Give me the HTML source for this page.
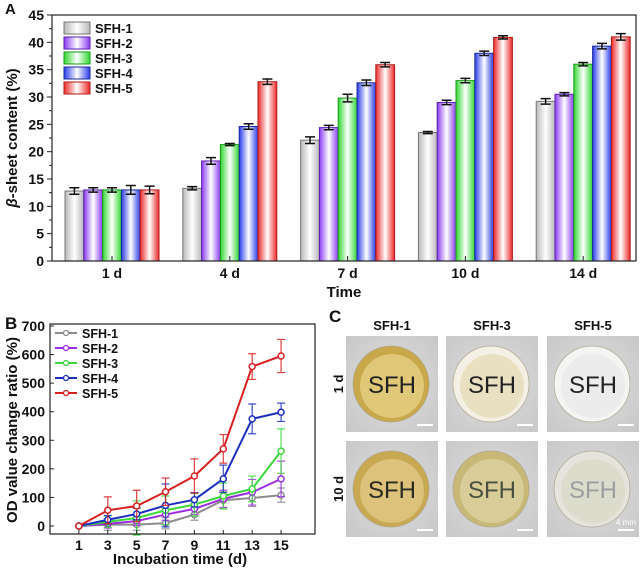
<!DOCTYPE html>
<html><head><meta charset="utf-8">
<style>
body{margin:0;background:#fff;width:644px;height:568px;overflow:hidden;font-family:"Liberation Sans",Arial,sans-serif;}
svg{position:absolute;left:0;top:0}
text{font-family:"Liberation Sans",Arial,sans-serif;font-weight:bold;fill:#111}
</style></head>
<body>
<svg id="fig" width="644" height="568" viewBox="0 0 644 568">
<defs>
 <linearGradient id="g0" x1="0" x2="1"><stop offset="0" stop-color="#b8b8b8"/><stop offset="0.5" stop-color="#fff"/><stop offset="1" stop-color="#b8b8b8"/></linearGradient>
 <linearGradient id="g1" x1="0" x2="1"><stop offset="0" stop-color="#8a3cf0"/><stop offset="0.5" stop-color="#fff"/><stop offset="1" stop-color="#8a3cf0"/></linearGradient>
 <linearGradient id="g2" x1="0" x2="1"><stop offset="0" stop-color="#30d830"/><stop offset="0.5" stop-color="#fff"/><stop offset="1" stop-color="#30d830"/></linearGradient>
 <linearGradient id="g3" x1="0" x2="1"><stop offset="0" stop-color="#2a3ce8"/><stop offset="0.5" stop-color="#fff"/><stop offset="1" stop-color="#2a3ce8"/></linearGradient>
 <linearGradient id="g4" x1="0" x2="1"><stop offset="0" stop-color="#ec2a2a"/><stop offset="0.5" stop-color="#fff"/><stop offset="1" stop-color="#ec2a2a"/></linearGradient>
 <radialGradient id="bg" cx="0.5" cy="0.5" r="0.7"><stop offset="0" stop-color="#dedede"/><stop offset="1" stop-color="#c8c8c8"/></radialGradient>
</defs>
<g id="chartA"></g>
<g id="chartB"></g>
<g id="panelC"></g>
</svg>
<script>
// ---------- Chart A data ----------
const catsA = ["1 d","4 d","7 d","10 d","14 d"];
const seriesA = ["SFH-1","SFH-2","SFH-3","SFH-4","SFH-5"];
const valsA = [
 [12.8,13.3,22.1,23.5,29.2],
 [13.0,18.3,24.4,29.0,30.5],
 [13.0,21.3,29.8,33.0,36.0],
 [13.0,24.6,32.6,38.0,39.3],
 [13.0,32.8,35.9,40.9,41.0]
];
const errA = [
 [0.6,0.3,0.6,0.2,0.5],
 [0.4,0.6,0.4,0.4,0.3],
 [0.4,0.2,0.7,0.4,0.3],
 [0.8,0.5,0.5,0.4,0.5],
 [0.7,0.5,0.4,0.3,0.6]
];
const ticksA = [0,5,10,15,20,25,30,35,40,45];
// ---------- Chart B data ----------
const daysB = [1,3,5,7,9,11,13,15];
const seriesB = ["SFH-1","SFH-2","SFH-3","SFH-4","SFH-5"];
const valsB = [
 [0,5,5,10,40,90,98,108],
 [0,8,17,40,60,95,118,165],
 [0,15,28,55,75,105,130,262],
 [0,22,42,72,92,165,375,398],
 [0,55,70,120,175,270,558,595]
];
const errB = [
 [0,20,20,20,20,30,30,25],
 [0,15,15,20,20,30,45,62],
 [0,20,60,50,40,45,45,78],
 [0,15,20,75,25,48,52,32],
 [0,47,55,48,60,50,45,58]
];
const ticksBy = [0,100,200,300,400,500,600,700];

const NS="http://www.w3.org/2000/svg";
function mk(parent,tag,attrs,txt){const e=document.createElementNS(NS,tag);for(const k in attrs)e.setAttribute(k,attrs[k]);if(txt!==undefined)e.textContent=txt;parent.appendChild(e);return e;}

// ---------- Chart A ----------
(function(){
 const g=document.getElementById('chartA');
 const L=52,R=636,T=15,B=261,ymax=45;
 const y=v=>B-(v/ymax)*(B-T);
 const c0=112,step=117.8,bw=18.8;
 const x=(ci,si)=>c0+ci*step+(si-2.5)*bw;
 const edge=["#777","#5a1fb0","#1a9a1a","#1a2aa0","#b01a1a"];
 let t=mk(g,'text',{x:5,y:14,'font-size':15});t.textContent='A';
 
 for(let s=0;s<seriesA.length;s++){
  for(let c=0;c<catsA.length;c++){
   const v=valsA[s][c],e=errA[s][c];
   const r=mk(g,'rect',{x:x(c,s),y:y(v),width:bw,height:B-y(v),fill:'url(#g'+s+')',stroke:edge[s],'stroke-width':1});
   
   
   const cx=x(c,s)+bw/2;
   const eb=mk(g,'path',{d:`M${cx},${y(v+e)}V${y(v-e)}M${cx-5},${y(v+e)}H${cx+5}M${cx-5},${y(v-e)}H${cx+5}`,stroke:'#111','stroke-width':1.5,fill:'none'});
   
   
  }
 }
 mk(g,'rect',{x:L,y:T,width:R-L,height:B-T,fill:'none',stroke:'#222','stroke-width':1.2});
 ticksA.forEach(v=>{
  mk(g,'line',{x1:L-5,x2:L,y1:y(v),y2:y(v),stroke:'#222'});
  if(v<45)mk(g,'line',{x1:L-3,x2:L,y1:y(v+2.5),y2:y(v+2.5),stroke:'#222'});
  const tl=mk(g,'text',{x:L-8,y:y(v)+5,'font-size':14,'text-anchor':'end'},v);
  
 });
 catsA.forEach((c,i)=>{
  const cx=c0+i*step;
  mk(g,'line',{x1:cx,x2:cx,y1:B,y2:B-5,stroke:'#222'});
  const tl=mk(g,'text',{x:cx,y:B+17,'font-size':14,'text-anchor':'middle'},c);
  
 });
 const xt=mk(g,'text',{x:344,y:297,'font-size':15,'text-anchor':'middle'},'Time');
 
 const yt=mk(g,'text',{x:0,y:0,'font-size':15,'text-anchor':'middle',transform:`translate(17,${(T+B)/2}) rotate(-90)`});
 
 mk(yt,'tspan',{'font-style':'italic'},'β');mk(yt,'tspan',{},'-sheet content (%)');
 seriesA.forEach((s,i)=>{
  const ly=28+i*15;
  const lg=mk(g,'g',{});
  
  
  mk(lg,'rect',{x:64,y:ly-6,width:26,height:12,fill:'url(#g'+i+')',stroke:edge[i]});
  mk(lg,'text',{x:95,y:ly+5,'font-size':13},s);
 });
})();

// ---------- Chart B ----------
(function(){
 const g=document.getElementById('chartB');
 const L=50,R=315,T=324,B=534;
 const xmin=-1,xmax=17.35,ymin=-28,ymax=707;
 const x=v=>L+(v-xmin)/(xmax-xmin)*(R-L);
 const y=v=>B-(v-ymin)/(ymax-ymin)*(B-T);
 const cols=["#8c8c8c","#9a2ee0","#3ad83a","#1c2ec0","#d82020"];
 let t=mk(g,'text',{x:5,y:329,'font-size':17});t.textContent='B';
 
 for(let s=0;s<seriesB.length;s++){
  const sg=mk(g,'g',{});
  
  
  daysB.forEach((d,i)=>{
   const v=valsB[s][i],e=errB[s][i];if(!e)return;
   const cx=x(d);
   mk(sg,'path',{d:`M${cx},${y(v+e)}V${y(v-e)}M${cx-4},${y(v+e)}H${cx+4}M${cx-4},${y(v-e)}H${cx+4}`,stroke:cols[s],'stroke-width':1.2,fill:'none',opacity:0.85});
  });
  const pts=daysB.map((d,i)=>x(d)+','+y(valsB[s][i])).join(' ');
  mk(sg,'polyline',{points:pts,fill:'none',stroke:cols[s],'stroke-width':2});
  daysB.forEach((d,i)=>{
   const p=mk(sg,'circle',{cx:x(d),cy:y(valsB[s][i]),r:3,fill:'#fff',stroke:cols[s],'stroke-width':1.5});
   
   
  });
 }
 mk(g,'rect',{x:L,y:T,width:R-L,height:B-T,fill:'none',stroke:'#222','stroke-width':1.2});
 ticksBy.forEach(v=>{
  mk(g,'line',{x1:L,x2:L+4,y1:y(v),y2:y(v),stroke:'#222'});
  const tl=mk(g,'text',{x:L-5,y:y(v)+5,'font-size':14,'text-anchor':'end'},v);
  
 });
 daysB.forEach(d=>{
  mk(g,'line',{x1:x(d),x2:x(d),y1:B,y2:B-4,stroke:'#222'});
  const tl=mk(g,'text',{x:x(d),y:550,'font-size':14,'text-anchor':'middle'},d);
  
 });
 const xt=mk(g,'text',{x:180,y:564,'font-size':15,'text-anchor':'middle'},'Incubation time (d)');
 
 const yt=mk(g,'text',{x:0,y:0,'font-size':15,'text-anchor':'middle',transform:`translate(17,430) rotate(-90)`},'OD value change ratio (%)');
 
 seriesB.forEach((s,i)=>{
  const ly=333+i*15;
  const lg=mk(g,'g',{});
  
  
  mk(lg,'line',{x1:55,x2:77,y1:ly,y2:ly,stroke:cols[i],'stroke-width':2});
  mk(lg,'circle',{cx:66,cy:ly,r:2.5,fill:'#fff',stroke:cols[i],'stroke-width':1.3});
  mk(lg,'text',{x:82,y:ly+5,'font-size':12.5},s);
 });
})();

// ---------- Panel C ----------
(function(){
 const g=document.getElementById('panelC');
 let t=mk(g,'text',{x:329,y:322,'font-size':17});t.textContent='C';
 
 const colX=[346,446,547],colW=92;
 const rowY=[336,441],rowH=96;
 const heads=["SFH-1","SFH-3","SFH-5"];
 heads.forEach((h,i)=>{
  const e=mk(g,'text',{x:colX[i]+colW/2,y:330,'font-size':13,'text-anchor':'middle'},h);
  
 });
 ["1 d","10 d"].forEach((r,j)=>{
  const e=mk(g,'text',{x:0,y:0,'font-size':13,'text-anchor':'middle',transform:`translate(343,${rowY[j]+rowH/2}) rotate(-90)`},r);
  
 });
 const fills=[["#e0c878","#e8e0c0","#ececec"],["#dcc27a","#d8cc98","#dcdccc"]];
 const rims=[["#c8a84a","#f4f0e6","#f4f4f2"],["#c8a850","#c8b878","#e4e4dc"]];
 const ink=[["#222","#222","#222"],["#2a2a20","#4a5040","#9aa0a0"]];
 for(let j=0;j<2;j++)for(let i=0;i<3;i++){
  const pg=mk(g,'g',{});
  
  
  const X=colX[i],Y=rowY[j];
  mk(pg,'rect',{x:X,y:Y,width:colW,height:rowH,fill:'url(#bg)'});
  const cx=X+colW/2-1,cy=Y+rowH/2;
  mk(pg,'circle',{cx:cx,cy:cy,r:38,fill:rims[j][i],stroke:'#b0a890','stroke-width':0.8});
  mk(pg,'circle',{cx:cx+1,cy:cy+2,r:32,fill:fills[j][i]});
  mk(pg,'text',{x:cx+1,y:cy+9,'font-size':24,'text-anchor':'middle',style:'fill:'+ink[j][i]+';font-weight:normal;font-family:"Liberation Sans",sans-serif'},'SFH');
  mk(pg,'rect',{x:X+colW-21,y:Y+rowH-8,width:16,height:2,fill:'#fff'});
 }
 const sc=mk(g,'text',{x:colX[2]+colW-13,y:rowY[1]+rowH-12,'font-size':8,'text-anchor':'middle',style:'fill:#fff;font-weight:normal'},'4 mm');
 
})();
</script>
</body></html>
